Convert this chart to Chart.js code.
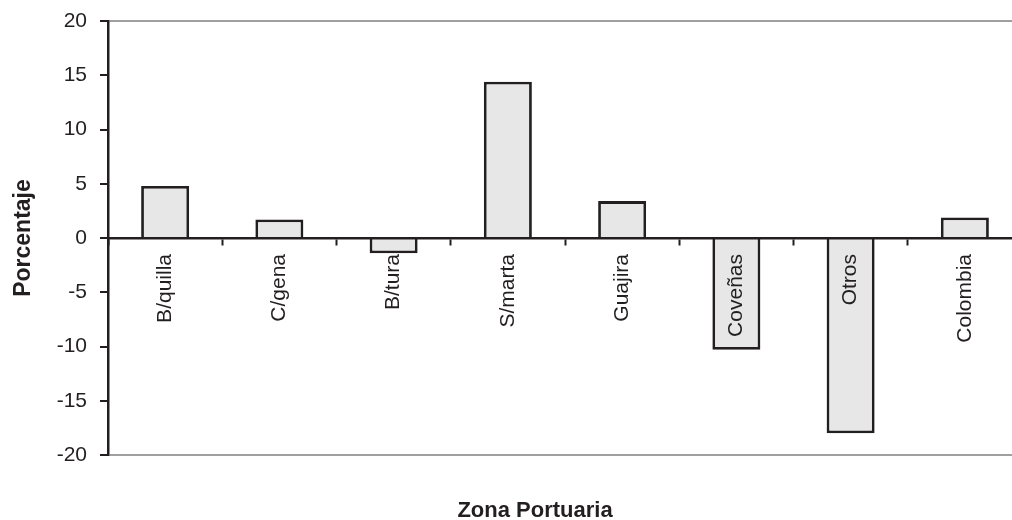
<!DOCTYPE html>
<html>
<head>
<meta charset="utf-8">
<script src="https://cdn.jsdelivr.net/npm/chart.js@4"></script>
<style>
  html, body { margin: 0; padding: 0; background: #ffffff; overflow: hidden; }
  #wrap { position: relative; width: 1024px; height: 520px; }
</style>
</head>
<body>
<div id="wrap"><canvas id="c"></canvas></div>
<script>
const categories = ["B/quilla", "C/gena", "B/tura", "S/marta", "Guajira", "Coveñas", "Otros", "Colombia"];
const values = [4.8, 1.7, -1.4, 14.4, 3.4, -10.3, -18.0, 1.9];
const yTicks = [-20, -15, -10, -5, 0, 5, 10, 15, 20];
const yTitle = "Porcentaje";
const xTitle = "Zona Portuaria";

const INK = '#231f20';
const FONT = '"Liberation Sans", Arial, sans-serif';

const xTitlePlugin = {
  id: 'xTitle',
  afterDraw(chart) {
    const ctx = chart.ctx;
    const a = chart.chartArea;
    ctx.save();
    ctx.font = 'bold 22px ' + FONT;
    ctx.fillStyle = INK;
    ctx.textAlign = 'center';
    ctx.textBaseline = 'alphabetic';
    ctx.fillText(xTitle, (a.left + a.right) / 2 - 30, 517);
    ctx.restore();
  }
};

new Chart(document.getElementById('c'), {
  type: 'bar',
  data: {
    labels: categories,
    datasets: [{
      data: values,
      backgroundColor: '#e6e7e6',
      borderColor: INK,
      borderWidth: 2.8,
      borderSkipped: 'start',
      barPercentage: 0.84,
      categoryPercentage: 0.5
    }]
  },
  options: {
    responsive: true,
    maintainAspectRatio: false,
    animation: false,
    layout: { padding: { left: 0, right: 2, top: 21, bottom: 65 } },
    plugins: {
      legend: { display: false },
      tooltip: { enabled: false },
      title: { display: false }
    },
    scales: {
      x: {
        position: { y: 0 },
        afterFit(scale) {
          scale.paddingTop = 0; scale.paddingBottom = 0;
          scale.paddingLeft = 0; scale.paddingRight = 0;
        },
        grid: {
          display: true,
          offset: true,
          drawOnChartArea: false,
          drawTicks: true,
          tickLength: 6,
          tickColor: INK,
          tickWidth: 2,
          z: 1
        },
        border: { display: true, color: INK, width: 2.5, z: 1 },
        ticks: {
          z: 1,
          autoSkip: false,
          maxRotation: 90,
          minRotation: 90,
          padding: 10,
          color: INK,
          font: { family: FONT, size: 21 }
        }
      },
      y: {
        min: -20,
        max: 20,
        afterFit(scale) {
          scale.width = 108;
          scale.paddingTop = 0; scale.paddingBottom = 0;
        },
        afterBuildTicks(scale) { scale.ticks = yTicks.map(v => ({ value: v })); },
        grid: {
          color: (c) => (c.tick && (c.tick.value === 20 || c.tick.value === -20)) ? '#a0a0a0' : 'rgba(0,0,0,0)',
          lineWidth: 2,
          drawTicks: true,
          tickLength: 8,
          tickColor: INK,
          tickWidth: 2
        },
        border: { display: true, color: INK, width: 2.5 },
        ticks: {
          padding: 13,
          color: INK,
          font: { family: FONT, size: 21 }
        },
        title: {
          display: true,
          text: yTitle,
          color: INK,
          padding: { top: 10, bottom: 0 },
          font: { family: FONT, size: 23, weight: 'bold' }
        }
      }
    }
  },
  plugins: [xTitlePlugin]
});
</script>
</body>
</html>
